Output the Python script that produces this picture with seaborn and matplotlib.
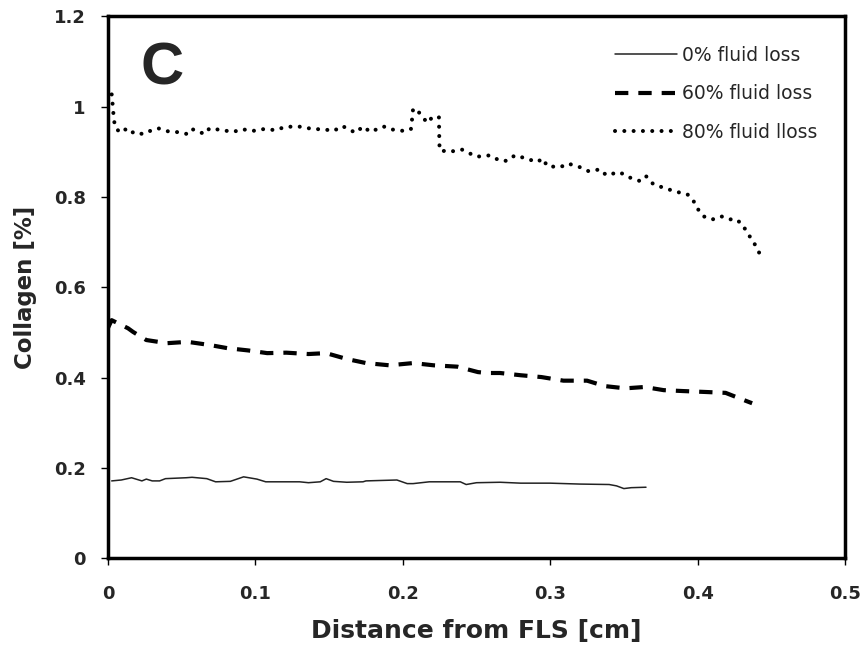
import numpy as np
import pandas as pd
import matplotlib
matplotlib.use("Agg")
import matplotlib.pyplot as plt
import seaborn as sns

# ---- data ----
x_0 = [0.0025, 0.009, 0.016, 0.023, 0.026, 0.030, 0.035, 0.039, 0.053, 0.057, 0.067, 0.073,
       0.083, 0.092, 0.101, 0.107, 0.130, 0.136, 0.144, 0.148, 0.153, 0.162, 0.173, 0.175,
       0.196, 0.203, 0.207, 0.218, 0.239, 0.243, 0.250, 0.266, 0.280, 0.300, 0.320, 0.340,
       0.345, 0.350, 0.355, 0.365]
y_0 = [0.171, 0.173, 0.178, 0.171, 0.175, 0.171, 0.171, 0.176, 0.178, 0.179, 0.176, 0.169,
       0.170, 0.180, 0.175, 0.169, 0.169, 0.167, 0.169, 0.176, 0.170, 0.168, 0.169, 0.171,
       0.173, 0.165, 0.165, 0.169, 0.169, 0.163, 0.167, 0.168, 0.166, 0.166, 0.164, 0.163,
       0.160, 0.154, 0.156, 0.157]

x_60 = [0.0, 0.0025, 0.0136, 0.017, 0.026, 0.040, 0.054, 0.069, 0.081, 0.095, 0.108, 0.121,
        0.136, 0.148, 0.162, 0.175, 0.191, 0.207, 0.221, 0.237, 0.251, 0.257, 0.266, 0.280,
        0.294, 0.309, 0.325, 0.337, 0.351, 0.364, 0.377, 0.390, 0.405, 0.419, 0.433, 0.437]
y_60 = [0.510, 0.527, 0.509, 0.501, 0.483, 0.476, 0.479, 0.472, 0.465, 0.460, 0.454, 0.455,
        0.452, 0.454, 0.441, 0.432, 0.427, 0.432, 0.427, 0.424, 0.412, 0.410, 0.410, 0.405,
        0.401, 0.393, 0.393, 0.381, 0.376, 0.379, 0.372, 0.370, 0.368, 0.366, 0.348, 0.343]

x_80 = [0.0025, 0.003, 0.0035, 0.004, 0.0047, 0.008, 0.0115, 0.015, 0.018, 0.0235, 0.0285,
        0.034, 0.041, 0.049, 0.054, 0.057, 0.062, 0.065, 0.069, 0.077, 0.085, 0.091, 0.098,
        0.105, 0.114, 0.120, 0.128, 0.132, 0.139, 0.146, 0.153, 0.159, 0.168, 0.173, 0.178,
        0.187, 0.191, 0.196, 0.201, 0.2055, 0.206, 0.2065, 0.207, 0.211, 0.214, 0.217, 0.220,
        0.2245, 0.2246, 0.2247, 0.2248, 0.225, 0.232, 0.240, 0.250, 0.259, 0.266, 0.271,
        0.276, 0.284, 0.291, 0.295, 0.298, 0.307, 0.312, 0.320, 0.326, 0.334, 0.338, 0.347,
        0.353, 0.361, 0.365, 0.370, 0.379, 0.386, 0.393, 0.397, 0.399, 0.404, 0.410, 0.416,
        0.422, 0.425, 0.430, 0.434, 0.438, 0.442]
y_80 = [1.027, 1.010, 0.990, 0.974, 0.955, 0.943, 0.950, 0.940, 0.945, 0.939, 0.946,
        0.952, 0.945, 0.943, 0.939, 0.950, 0.945, 0.939, 0.952, 0.948, 0.944, 0.950, 0.946,
        0.950, 0.948, 0.955, 0.956, 0.955, 0.950, 0.950, 0.946, 0.957, 0.942, 0.956, 0.944,
        0.956, 0.950, 0.948, 0.946, 0.950, 0.963, 0.979, 0.996, 0.987, 0.974, 0.964, 0.977,
        0.977, 0.959, 0.941, 0.922, 0.903, 0.900, 0.905, 0.889, 0.892, 0.880, 0.880,
        0.892, 0.885, 0.877, 0.885, 0.868, 0.866, 0.874, 0.866, 0.857, 0.861, 0.848, 0.855,
        0.844, 0.835, 0.846, 0.828, 0.818, 0.811, 0.806, 0.793, 0.778, 0.757, 0.750, 0.757,
        0.750, 0.752, 0.741, 0.719, 0.700, 0.675]

labels = ["0% fluid loss", "60% fluid loss", "80% fluid lloss"]
x_ticks = [0, 0.1, 0.2, 0.3, 0.4, 0.5]
x_tick_labels = ["0", "0.1", "0.2", "0.3", "0.4", "0.5"]
y_ticks = [0, 0.2, 0.4, 0.6, 0.8, 1.0, 1.2]
y_tick_labels = ["0", "0.2", "0.4", "0.6", "0.8", "1", "1.2"]

df0 = pd.DataFrame({"x": x_0, "y": y_0})
df60 = pd.DataFrame({"x": x_60, "y": y_60})
df80 = pd.DataFrame({"x": x_80, "y": y_80})

sns.set_style("white")
plt.rcParams["font.family"] = ["DejaVu Sans"]

fig = plt.figure(figsize=(8.64, 6.52), dpi=100)
ax = fig.add_axes([0.125, 0.144, 0.853, 0.831])

sns.lineplot(data=df0, x="x", y="y", ax=ax, color="#222222", linewidth=1.1,
             sort=False, estimator=None, label=labels[0])
sns.lineplot(data=df60, x="x", y="y", ax=ax, color="black", linewidth=3.0,
             sort=False, estimator=None, label=labels[1])
sns.lineplot(data=df80, x="x", y="y", ax=ax, color="black", linewidth=2.9,
             sort=False, estimator=None, label=labels[2])

lines = ax.get_lines()
lines[1].set_dashes([3.2, 2.4])
lines[2].set_linestyle((0, (0.01, 2.3)))
lines[2].set_dash_capstyle("round")

ax.set_xlim(0, 0.5)
ax.set_ylim(0, 1.2)
ax.set_xticks(x_ticks)
ax.set_xticklabels(x_tick_labels)
ax.set_yticks(y_ticks)
ax.set_yticklabels(y_tick_labels)
for lab in ax.get_xticklabels() + ax.get_yticklabels():
    lab.set_fontweight("bold")
    lab.set_fontsize(13)
ax.tick_params(axis="both", direction="out", length=5, width=1, color="black",
               bottom=True, left=True)
ax.tick_params(axis="y", pad=11)
ax.tick_params(axis="x", pad=14)

for s in ax.spines.values():
    s.set_visible(True)
    s.set_color("black")
    s.set_linewidth(2.5)

ax.set_xlabel("Distance from FLS [cm]", fontsize=18, fontweight="bold", labelpad=12)
ax.set_ylabel("Collagen [%]", fontsize=16.5, fontweight="bold", labelpad=12)

ax.text(0.073, 0.902, "C", transform=ax.transAxes, fontsize=43, fontweight="bold",
        family=["Liberation Sans", "DejaVu Sans"], ha="center", va="center")

leg = ax.legend(loc="upper right", bbox_to_anchor=(0.963, 0.946), frameon=False,
                prop={"family": ["DejaVu Sans"], "size": 13.5},
                handlelength=3.3, labelspacing=1.05, handletextpad=0.3,
                borderpad=0, borderaxespad=0)

fig.savefig("out.png", dpi=100, facecolor="white")
